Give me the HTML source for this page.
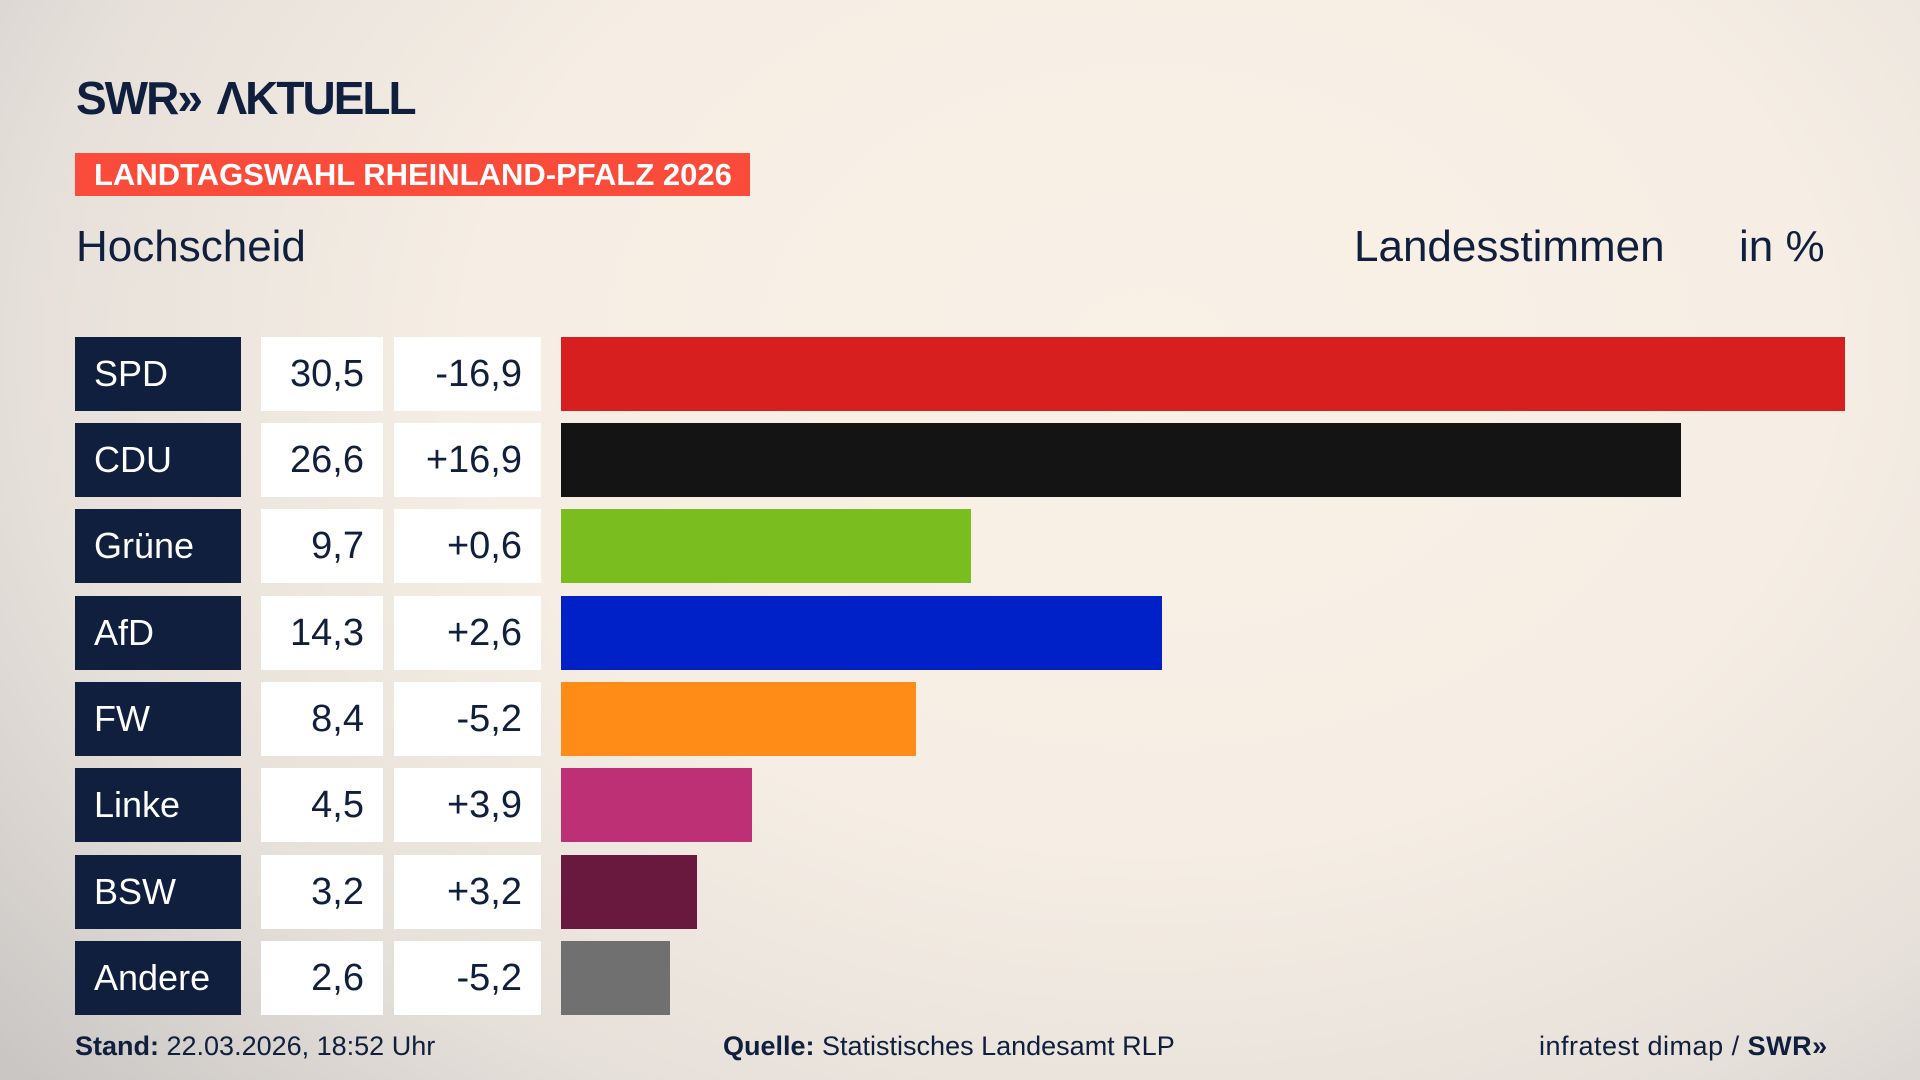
<!DOCTYPE html>
<html><head><meta charset="utf-8"><style>
*{margin:0;padding:0;box-sizing:border-box}
body{width:1920px;height:1080px;overflow:hidden;font-family:"Liberation Sans",sans-serif;color:#0f1f3d;
background:radial-gradient(ellipse 1500px 1100px at 1150px 350px,#f9f1e6 0%,#f6eee4 45%,#e6e0da 75%,#c9c6c4 100%);position:relative}
.abs{position:absolute}
.logo{left:76px;top:71px;font-size:46px;font-weight:bold;letter-spacing:-2px;color:#0f1f3d}
.banner{left:75px;top:153px;width:675px;height:43px;background:#fb4c3b;color:#fff;font-weight:bold;font-size:31px;line-height:43px;padding-left:19px}
.h{top:222px;font-size:44px}
.name{left:75px;width:166px;height:74px;background:#0f1f3d;color:#fff;font-size:36px;line-height:74px;padding-left:19px}
.val,.dif{background:#fff;height:74px;font-size:38px;line-height:74px;text-align:right;padding-right:19px}
.val{left:261px;width:122px}
.dif{left:394px;width:147px}
.bar{left:561px;height:74px}
.foot{top:1031px;font-size:27px}
</style></head><body>
<div class="abs logo">SWR<span style="letter-spacing:-8px">»</span>&nbsp; ΛKTUELL</div>
<div class="abs banner">LANDTAGSWAHL RHEINLAND-PFALZ 2026</div>
<div class="abs h" style="left:76px">Hochscheid</div>
<div class="abs h" style="left:1354px">Landesstimmen</div>
<div class="abs h" style="left:1739px">in %</div>

<div class="abs name" style="top:337px">SPD</div><div class="abs val" style="top:337px">30,5</div><div class="abs dif" style="top:337px">-16,9</div><div class="abs bar" style="top:337px;width:1284px;background:#d81f20"></div>
<div class="abs name" style="top:423px">CDU</div><div class="abs val" style="top:423px">26,6</div><div class="abs dif" style="top:423px">+16,9</div><div class="abs bar" style="top:423px;width:1120px;background:#141414"></div>
<div class="abs name" style="top:509px">Grüne</div><div class="abs val" style="top:509px">9,7</div><div class="abs dif" style="top:509px">+0,6</div><div class="abs bar" style="top:509px;width:410px;background:#79be1e"></div>
<div class="abs name" style="top:596px">AfD</div><div class="abs val" style="top:596px">14,3</div><div class="abs dif" style="top:596px">+2,6</div><div class="abs bar" style="top:596px;width:601px;background:#0021c8"></div>
<div class="abs name" style="top:682px">FW</div><div class="abs val" style="top:682px">8,4</div><div class="abs dif" style="top:682px">-5,2</div><div class="abs bar" style="top:682px;width:355px;background:#ff8c17"></div>
<div class="abs name" style="top:768px">Linke</div><div class="abs val" style="top:768px">4,5</div><div class="abs dif" style="top:768px">+3,9</div><div class="abs bar" style="top:768px;width:191px;background:#bd3075"></div>
<div class="abs name" style="top:855px">BSW</div><div class="abs val" style="top:855px">3,2</div><div class="abs dif" style="top:855px">+3,2</div><div class="abs bar" style="top:855px;width:136px;background:#69183e"></div>
<div class="abs name" style="top:941px">Andere</div><div class="abs val" style="top:941px">2,6</div><div class="abs dif" style="top:941px">-5,2</div><div class="abs bar" style="top:941px;width:109px;background:#707070"></div>

<div class="abs foot" style="left:75px"><b>Stand:</b> 22.03.2026, 18:52 Uhr</div>
<div class="abs foot" style="left:723px"><b>Quelle:</b> Statistisches Landesamt RLP</div>
<div class="abs foot" style="left:1539px;letter-spacing:0.5px">infratest dimap / <b>SWR»</b></div>
</body></html>
